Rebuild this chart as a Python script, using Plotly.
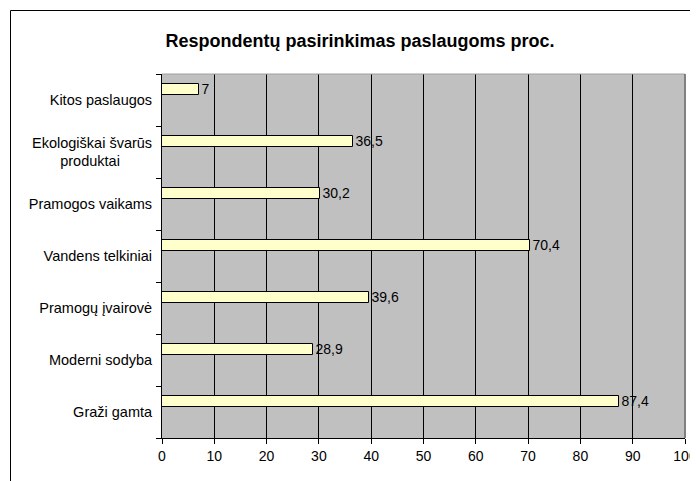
import plotly.graph_objects as go

categories = ["Graži gamta", "Moderni sodyba", "Pramogų įvairovė", "Vandens telkiniai",
              "Pramogos vaikams", "Ekologiškai švarūs<br>produktai\u00a0\u00a0\u00a0\u00a0\u00a0\u00a0\u00a0\u00a0", "Kitos paslaugos"]
values = [87.4, 28.9, 39.6, 70.4, 30.2, 36.5, 7]
x_ticks = [0, 10, 20, 30, 40, 50, 60, 70, 80, 90, 100]
title_text = "Respondentų pasirinkimas paslaugoms proc."

labels = [(str(v) if v != int(v) else str(int(v))).replace(".", ",") for v in values]

FONT = "Liberation Sans, Arial"
# page body has an 8px default margin; figure is sized to fill the rest
W, H = 690, 473
L, R, T, B = 154, 13, 66, 43
PW, PH = W - L - R, H - T - B

fig = go.Figure()
fig.add_trace(go.Bar(
    y=categories, x=values, orientation="h",
    offset=0.1, width=0.205,
    marker=dict(color="#FFFFCC", line=dict(color="#000000", width=1)),
    text=labels, textposition="outside", cliponaxis=False, constraintext="none",
    textfont=dict(family=FONT, size=14, color="#000000"),
))

fig.update_layout(
    width=W, height=H,
    margin=dict(l=L, r=R, t=T, b=B, autoexpand=False),
    paper_bgcolor="#FFFFFF", plot_bgcolor="#C0C0C0",
    showlegend=False,
    title=dict(text="<b>" + title_text + "</b>", x=(360 - 8) / W, xanchor="center",
               y=1 - (41 - 8) / H, yanchor="middle", yref="container",
               font=dict(family=FONT, size=18, color="#000000")),
    font=dict(family=FONT, size=14, color="#000000"),
    bargap=0,
)
fig.update_xaxes(
    range=[0, 100], tickvals=x_ticks, ticktext=[str(t) for t in x_ticks],
    showgrid=True, gridcolor="#000000", gridwidth=1,
    showline=True, linecolor="#000000", linewidth=1,
    ticks="outside", ticklen=5, tickcolor="#000000",
    zeroline=False, fixedrange=True, automargin=False,
    tickfont=dict(size=14),
)
fig.update_yaxes(
    type="category", categoryorder="array", categoryarray=categories,
    showgrid=False, showline=True, linecolor="#000000", linewidth=1,
    ticks="outside", ticklen=5, tickcolor="#000000", tickson="boundaries",
    ticklabelstandoff=6, automargin=False,
    tickfont=dict(size=14.5),
)
# plot-area border (top gray, right darker gray)
fig.add_shape(type="line", xref="paper", yref="paper", x0=0, x1=1, y0=1, y1=1,
              line=dict(color="#A0A0A0", width=1))
fig.add_shape(type="line", xref="paper", yref="paper", x0=1, x1=1, y0=0, y1=1,
              line=dict(color="#808080", width=2))
# outer chart frame
fig.add_shape(type="rect", xref="paper", yref="paper",
              x0=(2.5 - L) / PW, x1=1.2, y0=-0.3, y1=(PH + T - 2.5) / PH,
              line=dict(color="#000000", width=1), fillcolor="rgba(0,0,0,0)", layer="below")

fig.write_html("out.html")
